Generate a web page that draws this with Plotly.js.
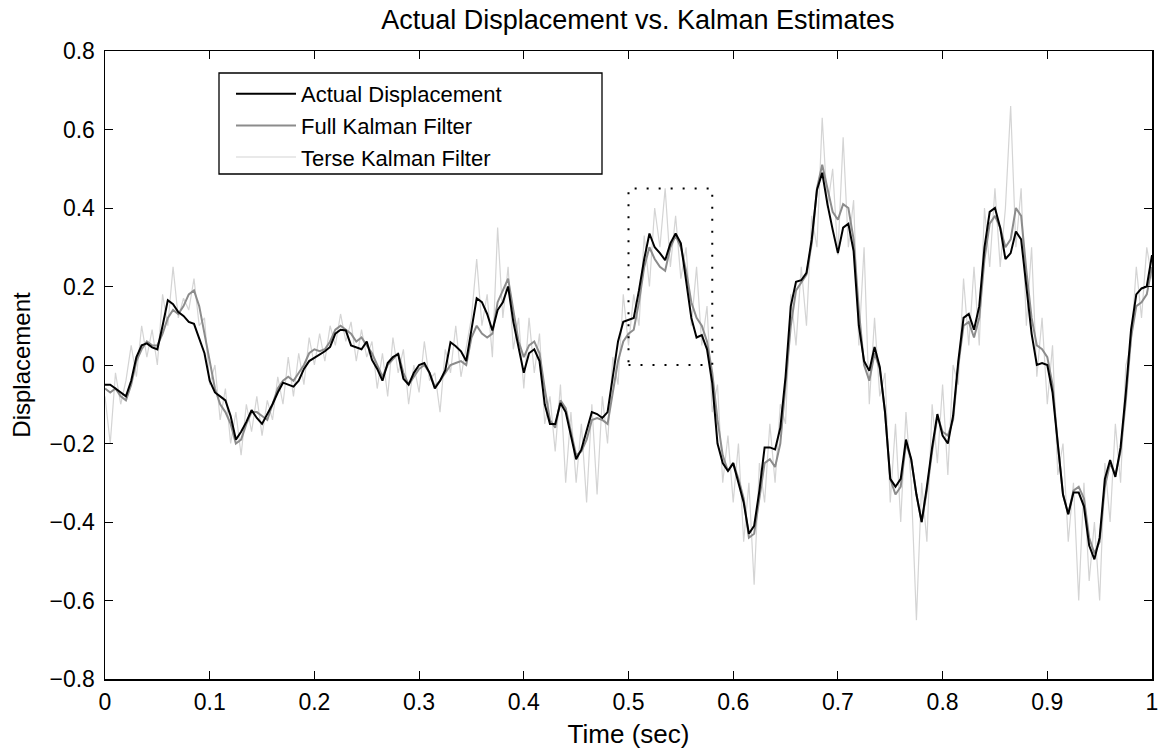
<!DOCTYPE html>
<html>
<head>
<meta charset="utf-8">
<script src="https://cdn.plot.ly/plotly-3.0.1.min.js"></script>
<style>
html,body{margin:0;padding:0;background:#fff;}
#chart{width:1164px;height:755px;}
</style>
</head>
<body>
<div id="chart"></div>
<script>
// Sampling of all three series: starts at 0 s, one sample every 0.005 s
var timeStart = 0;
var timeStep = 0.005;

var actualDisplacement = [
-0.05,-0.05,-0.06,-0.07,-0.08,-0.04,0.02,0.05,0.055,0.045,
0.04,0.10,0.165,0.155,0.135,0.125,0.11,0.105,0.07,0.03,
-0.04,-0.07,-0.08,-0.09,-0.13,-0.19,-0.17,-0.145,-0.115,-0.135,
-0.15,-0.125,-0.10,-0.07,-0.045,-0.05,-0.055,-0.04,-0.01,0.01,
0.018,0.025,0.035,0.046,0.08,0.09,0.088,0.05,0.045,0.04,
0.06,0.013,-0.01,-0.04,0.005,0.02,0.028,-0.035,-0.05,-0.02,
0.0,0.005,-0.02,-0.06,-0.04,-0.013,0.058,0.048,0.035,0.01,
0.09,0.17,0.16,0.13,0.088,0.14,0.16,0.2,0.11,0.045,
-0.02,0.03,0.04,0.01,-0.1,-0.15,-0.15,-0.097,-0.12,-0.18,
-0.24,-0.215,-0.17,-0.12,-0.125,-0.135,-0.12,-0.03,0.06,0.11,
0.115,0.12,0.19,0.27,0.335,0.30,0.285,0.267,0.31,0.335,
0.31,0.21,0.12,0.07,0.076,0.04,-0.046,-0.2,-0.25,-0.27,
-0.25,-0.3,-0.35,-0.43,-0.41,-0.32,-0.21,-0.21,-0.215,-0.16,
-0.03,0.15,0.212,0.216,0.235,0.32,0.446,0.49,0.41,0.345,
0.285,0.35,0.36,0.29,0.1,0.01,-0.015,0.046,-0.005,-0.12,
-0.29,-0.31,-0.29,-0.19,-0.24,-0.33,-0.4,-0.31,-0.21,-0.125,
-0.18,-0.2,-0.13,0.01,0.12,0.13,0.09,0.15,0.3,0.39,
0.40,0.35,0.27,0.285,0.34,0.32,0.2,0.08,0.0,0.005,
0.0,-0.07,-0.2,-0.33,-0.38,-0.325,-0.325,-0.36,-0.46,-0.495,
-0.44,-0.29,-0.242,-0.285,-0.21,-0.07,0.09,0.18,0.195,0.2,
0.28
];

var fullKalman = [
-0.06,-0.07,-0.06,-0.08,-0.09,-0.05,0.01,0.04,0.06,0.05,
0.05,0.08,0.12,0.14,0.13,0.15,0.18,0.19,0.15,0.08,
0.0,-0.06,-0.10,-0.12,-0.15,-0.2,-0.19,-0.15,-0.12,-0.12,
-0.13,-0.14,-0.10,-0.06,-0.04,-0.03,-0.04,-0.02,0.0,0.03,
0.04,0.035,0.04,0.06,0.09,0.10,0.09,0.08,0.06,0.07,
0.05,0.03,0.0,-0.03,0.0,0.015,0.03,-0.02,-0.05,-0.03,
-0.01,0.0,-0.02,-0.055,-0.04,-0.02,0.0,0.005,0.01,0.0,
0.07,0.10,0.08,0.07,0.08,0.16,0.19,0.22,0.14,0.06,
0.02,0.05,0.06,0.03,-0.06,-0.14,-0.16,-0.09,-0.11,-0.17,
-0.23,-0.22,-0.19,-0.14,-0.135,-0.14,-0.15,-0.07,0.01,0.06,
0.08,0.09,0.16,0.25,0.30,0.27,0.25,0.24,0.30,0.33,
0.30,0.24,0.16,0.12,0.10,0.06,-0.02,-0.14,-0.23,-0.27,
-0.25,-0.29,-0.34,-0.44,-0.43,-0.34,-0.25,-0.24,-0.26,-0.2,
-0.06,0.1,0.19,0.21,0.23,0.31,0.45,0.51,0.45,0.39,
0.37,0.41,0.40,0.32,0.14,0.0,-0.04,0.03,-0.01,-0.12,
-0.29,-0.33,-0.31,-0.2,-0.24,-0.33,-0.4,-0.32,-0.22,-0.13,
-0.17,-0.18,-0.14,0.0,0.1,0.11,0.07,0.12,0.27,0.36,
0.38,0.35,0.30,0.32,0.40,0.38,0.24,0.12,0.05,0.04,
0.02,-0.05,-0.2,-0.33,-0.38,-0.32,-0.31,-0.34,-0.44,-0.48,
-0.45,-0.31,-0.25,-0.28,-0.22,-0.09,0.07,0.15,0.16,0.18,
0.25
];

var terseKalman = [
-0.08,-0.20,-0.02,-0.10,-0.04,0.05,-0.03,0.10,0.02,0.09,
0.0,0.18,0.10,0.25,0.12,0.17,0.14,0.22,0.10,0.12,
-0.05,0.0,-0.14,-0.06,-0.20,-0.12,-0.23,-0.10,-0.17,-0.08,
-0.18,-0.09,-0.14,-0.03,-0.10,0.02,-0.08,0.03,-0.05,0.07,
0.0,0.08,0.01,0.10,0.05,0.13,0.06,0.11,0.01,0.09,
0.02,0.06,-0.06,0.03,-0.08,0.07,-0.02,0.04,-0.10,0.0,
-0.07,0.06,-0.04,-0.02,-0.12,0.04,-0.02,0.10,-0.03,0.04,
0.12,0.27,0.10,0.18,0.02,0.35,0.12,0.25,0.04,0.12,
-0.06,0.12,-0.02,0.08,-0.15,-0.08,-0.22,-0.05,-0.30,-0.12,
-0.30,-0.15,-0.35,-0.10,-0.33,-0.08,-0.20,0.02,-0.05,0.18,
0.05,0.18,0.10,0.33,0.20,0.40,0.30,0.45,0.25,0.38,
0.22,0.30,0.10,0.25,0.05,0.15,-0.12,-0.05,-0.30,-0.18,
-0.35,-0.20,-0.45,-0.30,-0.56,-0.25,-0.35,-0.15,-0.30,-0.10,
-0.15,0.18,0.05,0.25,0.10,0.38,0.30,0.63,0.40,0.50,
0.28,0.58,0.30,0.42,0.05,0.30,-0.10,0.12,-0.08,-0.02,
-0.35,-0.15,-0.40,-0.12,-0.30,-0.65,-0.30,-0.45,-0.10,-0.25,
-0.05,-0.28,0.0,-0.05,0.22,0.05,0.25,0.05,0.40,0.25,
0.45,0.25,0.40,0.66,0.30,0.45,0.10,0.30,-0.03,0.12,
-0.10,0.05,-0.28,-0.20,-0.45,-0.30,-0.60,-0.30,-0.55,-0.40,
-0.60,-0.25,-0.40,-0.15,-0.30,0.0,0.05,0.25,0.12,0.30,
0.22
];

var seriesNames = ["Actual Displacement", "Full Kalman Filter", "Terse Kalman Filter"];

var xTickVals = [0,0.1,0.2,0.3,0.4,0.5,0.6,0.7,0.8,0.9,1];
var xTickText = ["0","0.1","0.2","0.3","0.4","0.5","0.6","0.7","0.8","0.9","1"];
var yTickVals = [-0.8,-0.6,-0.4,-0.2,0,0.2,0.4,0.6,0.8];
var yTickText = ["\u22120.8","\u22120.6","\u22120.4","\u22120.2","0","0.2","0.4","0.6","0.8"];

// dotted zoom box drawn around the hump near t = 0.5 s
var zoomBoxX = [0.5, 0.58];
var zoomBoxY = [0, 0.45];

var FONT = "Liberation Sans, Arial, Helvetica, sans-serif";

var traces = [
  {
    type: "scatter", mode: "lines", name: seriesNames[2],
    x0: timeStart, dx: timeStep, y: terseKalman,
    line: {color: "#d4d4d4", width: 1.2},
    legendrank: 3
  },
  {
    type: "scatter", mode: "lines", name: seriesNames[1],
    x0: timeStart, dx: timeStep, y: fullKalman,
    line: {color: "#8c8c8c", width: 2},
    legendrank: 2
  },
  {
    type: "scatter", mode: "lines", name: seriesNames[0],
    x0: timeStart, dx: timeStep, y: actualDisplacement,
    line: {color: "#000000", width: 2},
    legendrank: 1
  }
];

var axisCommon = {
  showgrid: false, zeroline: false,
  showline: true, linecolor: "#000", linewidth: 1.5,
  mirror: "ticks", ticks: "inside", ticklen: 8, tickwidth: 1, tickcolor: "#000",
  tickfont: {family: FONT, size: 23, color: "#000"}
};

// legend frame (MATLAB-style, wider than the text), in paper fractions
var legX = (219 - 105) / 1047, legX1 = (602 - 105) / 1047;
var legY = (679 - 73) / 628, legY0 = (679 - 174) / 628;
var legItemsX = (231 - 105) / 1047;

var layout = {
  width: 1164, height: 755,
  paper_bgcolor: "#fff", plot_bgcolor: "#fff",
  margin: {l: 105, r: 12, t: 51, b: 76},
  showlegend: true,
  title: {
    text: "Actual Displacement vs. Kalman Estimates",
    font: {family: FONT, size: 27, color: "#000"},
    x: 0.548, xanchor: "center", xref: "container",
    y: 1 - 20/755, yanchor: "middle", yref: "container"
  },
  xaxis: Object.assign({}, axisCommon, {
    range: [0, 1], tickmode: "array", tickvals: xTickVals, ticktext: xTickText,
    ticklabelstandoff: 2,
    title: {text: "Time (sec)", font: {family: FONT, size: 26, color: "#000"}, standoff: 10}
  }),
  yaxis: Object.assign({}, axisCommon, {
    range: [-0.8, 0.8], tickmode: "array", tickvals: yTickVals, ticktext: yTickText,
    ticklabelstandoff: 4,
    title: {text: "Displacement", font: {family: FONT, size: 24, color: "#000"}, standoff: 12}
  }),
  legend: {
    x: legItemsX, y: legY, xanchor: "left", yanchor: "top",
    bgcolor: "rgba(0,0,0,0)", borderwidth: 0,
    font: {family: FONT, size: 22, color: "#000"},
    traceorder: "normal", itemwidth: 60, tracegroupgap: 0
  },
  shapes: [
    {
      type: "rect", xref: "x", yref: "y", layer: "above",
      x0: zoomBoxX[0], x1: zoomBoxX[1], y0: zoomBoxY[0], y1: zoomBoxY[1],
      line: {color: "#000", width: 2, dash: "2px,10px"}
    },
    {
      type: "rect", xref: "paper", yref: "paper", layer: "above",
      x0: legX, x1: legX1, y0: legY0, y1: legY,
      fillcolor: "#fff", line: {color: "#000", width: 1.3}
    }
  ]
};

Plotly.newPlot("chart", traces, layout, {displayModeBar: false, staticPlot: true});
</script>
</body>
</html>
